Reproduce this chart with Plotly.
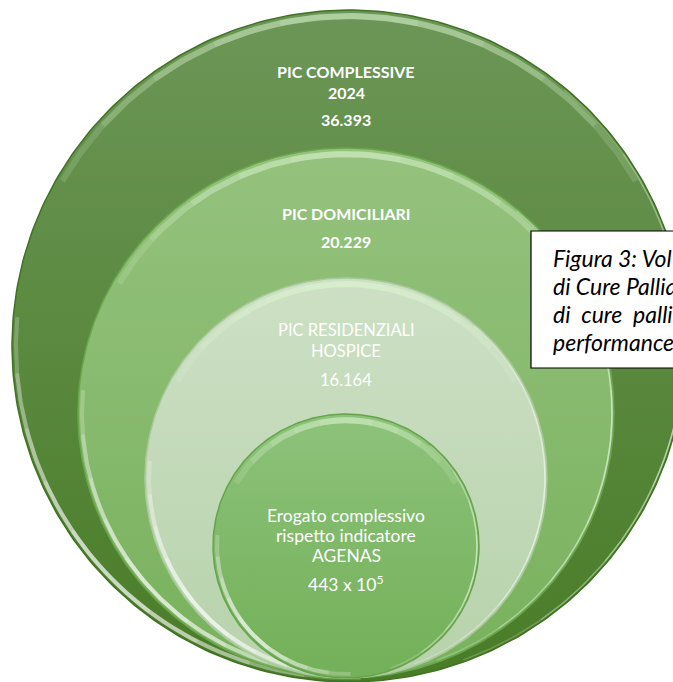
import numpy as np
import plotly.graph_objects as go

# ---- data ----
titles = [["PIC COMPLESSIVE", "2024"], ["PIC DOMICILIARI"], ["PIC RESIDENZIALI", "HOSPICE"],
          ["Erogato complessivo", "rispetto indicatore", "AGENAS"]]
values = [36393, 20229, 16164, 443]
value_suffix = ["", "", "", " x 10<sup>5</sup>"]
caption_lines = ["Figura 3: Vol", "di Cure Pallia", "di  cure  palli", "performance"]

W, H = 673, 682

# geometry (pixel space) for the nested circles: cx, cy, rx, ry
circles = [
    (349, 346, 337, 336),
    (346, 413, 268, 265),
    (346, 478, 201, 200),
    (346, 546, 133, 132),
]
top_cols = ["#6c9657", "#95c27e", "#cde0c5", "#8dc27b"]
bot_cols = ["#497c27", "#78b15c", "#b7d2ab", "#73b058"]
edge_cols = ["#3f7222", "#6aa54e", "#a9c99c", "#66a44c"]
bold = [True, True, False, False]
font_sizes = [16, 16, 16.5, 17.5]
title_y = [[71, 92], [213], [330, 351], [515, 535, 555]]
value_y = [119, 241, 380, 583]


def fmt(v):
    return f"{v:,}".replace(",", ".")


def arc(cx, cy, rx, ry, a0, a1, n=120):
    t = np.radians(np.linspace(a0, a1, n))
    return cx + rx * np.cos(t), cy - ry * np.sin(t)


def soft_arc(fig, c, inset, a0, a1, rgb, alpha, width, steps=5):
    cx, cy, rx, ry = c
    mid = 0.5 * (a0 + a1)
    half = 0.5 * (a1 - a0)
    for k in range(steps):
        h = half * (1 - k / steps)
        x, y = arc(cx, cy, rx - inset, ry - inset, mid - h, mid + h)
        fig.add_trace(go.Scatter(x=x, y=y, mode="lines",
                                 line=dict(color=f"rgba({rgb},{alpha})", width=width),
                                 hoverinfo="skip", showlegend=False))


fig = go.Figure()

for i, c in enumerate(circles):
    cx, cy, rx, ry = c
    x, y = arc(cx, cy, rx, ry, 0, 360, 360)
    fig.add_trace(go.Scatter(
        x=x, y=y, mode="lines", fill="toself",
        line=dict(color=edge_cols[i], width=1.5),
        fillgradient=dict(type="vertical", start=cy - ry, stop=cy + ry,
                          colorscale=[[0, top_cols[i]], [1, bot_cols[i]]]),
        hoverinfo="skip", showlegend=False))
    # top glossy highlight (soft)
    soft_arc(fig, c, 6, 30, 150, "225,248,210", 0.16, 6)
    # bottom-left white highlight (soft)
    soft_arc(fig, c, 4, 175, 272, "255,255,255", 0.22, 4)
    # thin right rim
    soft_arc(fig, c, 2, -70, 50, "240,255,235", 0.22, 1.5, steps=4)

# labels
for i in range(4):
    b = bold[i]
    fs = font_sizes[i]
    for ln, yy in zip(titles[i], title_y[i]):
        t = f"<b>{ln}</b>" if b else ln
        fig.add_annotation(x=346, y=yy, text=t, showarrow=False,
                           font=dict(family="Lato", size=fs, color="white"),
                           xanchor="center", yanchor="middle")
    v = fmt(values[i]) + value_suffix[i]
    if b:
        v = f"<b>{v}</b>"
    fig.add_annotation(x=346, y=value_y[i], text=v, showarrow=False,
                       font=dict(family="Lato", size=fs, color="white"),
                       xanchor="center", yanchor="middle")

# caption box (clipped by the right border)
fig.add_shape(type="rect", x0=531, x1=W + 10, y0=231, y1=368,
              line=dict(color="black", width=1.2), fillcolor="white", layer="above")
cap_y = [258, 286, 314, 342]
for ln, yy in zip(caption_lines, cap_y):
    fig.add_annotation(x=551, y=yy, text=f"<i>{ln}</i>", showarrow=False,
                       xanchor="left", yanchor="middle",
                       font=dict(family="Lato", size=23, color="black"))

fig.update_layout(
    width=W, height=H, margin=dict(l=0, r=0, t=0, b=0),
    paper_bgcolor="white", plot_bgcolor="white",
    xaxis=dict(range=[0, W], visible=False, fixedrange=True),
    yaxis=dict(range=[H, 0], visible=False, fixedrange=True),
    showlegend=False,
)

fig.write_html("out.html")
